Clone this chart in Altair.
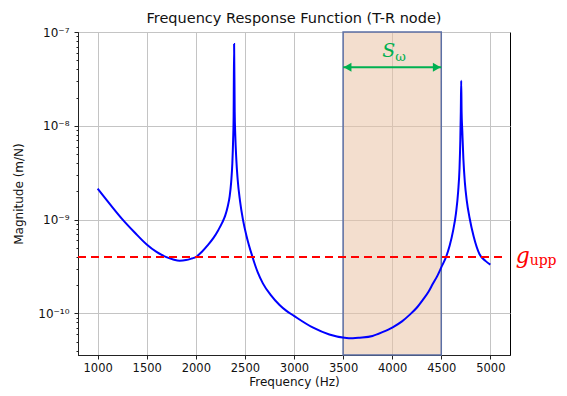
import altair as alt
import pandas as pd

# ---- data ----
freq = [1000, 1125, 1255, 1380, 1500, 1600, 1700, 1770, 1835, 1900, 1960,
        2000, 2060, 2120, 2180, 2230, 2270, 2300, 2325, 2345, 2360, 2372, 2380, 2385,
        2390,
        2396, 2402, 2412, 2426, 2450, 2480, 2520, 2575, 2630, 2683, 2760, 2853,
        2920, 3000, 3190, 3360, 3515, 3600, 3670, 3800, 3900, 4005, 4100, 4177, 4250,
        4312, 4370, 4414, 4460, 4500, 4551, 4585, 4620, 4650, 4672, 4686, 4694, 4699,
        4703,
        4707, 4714, 4725, 4740, 4760, 4788, 4830, 4890, 4950, 5000]
mag = [2.138e-9, 1.462e-9, 1.0e-9, 7.24e-10, 5.43e-10, 4.52e-10, 3.98e-10, 3.76e-10,
       3.65e-10, 3.70e-10, 3.85e-10,
       3.98e-10, 4.52e-10, 5.31e-10, 6.38e-10, 7.76e-10, 9.33e-10, 1.109e-9, 1.380e-9,
       1.778e-9, 2.512e-9, 3.98e-9, 7.08e-9, 1.259e-8,
       7.45e-8,
       1.413e-8, 7.94e-9, 4.47e-9, 2.69e-9, 1.585e-9, 1.0e-9, 6.46e-10, 4.07e-10,
       2.75e-10, 2.09e-10, 1.585e-10, 1.23e-10,
       1.07e-10, 9.40e-11, 7.08e-11, 5.96e-11, 5.50e-11, 5.43e-11, 5.50e-11, 5.75e-11,
       6.31e-11, 7.11e-11, 8.22e-11, 9.64e-11, 1.148e-10,
       1.393e-10, 1.698e-10, 2.065e-10, 2.512e-10, 3.09e-10, 4.05e-10, 5.25e-10,
       7.59e-10, 1.175e-9, 1.995e-9, 3.55e-9, 7.08e-9, 1.413e-8,
       3.02e-8,
       1.413e-8, 8.91e-9, 4.47e-9, 2.51e-9, 1.585e-9, 1.047e-9, 6.61e-10, 4.27e-10,
       3.63e-10, 3.31e-10]

band = [3500, 4500]
g_upp = 4.0e-10
g_line_x = [800, 5130]
arrow_y = 4.2e-8
x_ticks = [1000, 1500, 2000, 2500, 3000, 3500, 4000, 4500, 5000]
y_major = [1e-10, 1e-9, 1e-8, 1e-7]
y_minor = [4e-11, 5e-11, 6e-11, 7e-11, 8e-11, 9e-11,
           2e-10, 3e-10, 4e-10, 5e-10, 6e-10, 7e-10, 8e-10, 9e-10,
           2e-9, 3e-9, 4e-9, 5e-9, 6e-9, 7e-9, 8e-9, 9e-9,
           2e-8, 3e-8, 4e-8, 5e-8, 6e-8, 7e-8, 8e-8, 9e-8]
label_x = 5330
sub_x = 5400

FONT = "DejaVu Sans"
curve = pd.DataFrame({"f": freq, "m": mag})

x_scale = alt.Scale(domain=[800, 5200], nice=False, zero=False)
y_scale = alt.Scale(type="log", domain=[3.6e-11, 1e-7], nice=False)

y_label_expr = ("datum.value >= 5e-8 ? '10\u207b\u2077' : datum.value >= 5e-9 ? '10\u207b\u2078' : "
                "datum.value >= 5e-10 ? '10\u207b\u2079' : '10\u207b\u00b9\u2070'")


def ynone(field):
    return alt.Y(field, scale=y_scale, axis=None)


band_df = pd.DataFrame({"a": [band[0]], "b": [band[1]]})
rect = alt.Chart(band_df).mark_rect(
    fill="#eac3a6", fillOpacity=0.55, stroke="#5b6fa5", strokeWidth=1.5
).encode(
    x=alt.X("a:Q", scale=x_scale), x2="b:Q"
)

line = alt.Chart(curve).mark_line(color="#0000ff", strokeWidth=2, interpolate="monotone").encode(
    x=alt.X("f:Q", scale=x_scale,
            axis=alt.Axis(values=x_ticks, format="d", title="Frequency (Hz)", grid=True,
                          tickSize=4, labelPadding=3, titlePadding=3,
                          titleFontWeight="normal", labelFontSize=11.5, titleFontSize=12)),
    y=alt.Y("m:Q", scale=y_scale,
            axis=alt.Axis(values=y_major, labelExpr=y_label_expr, title="Magnitude (m/N)",
                          grid=True, tickSize=4, labelPadding=5, titlePadding=12, orient="left",
                          titleFontWeight="normal", labelFontSize=12, titleFontSize=12)),
)

minor_df = pd.DataFrame({"y": [g_upp]})
minor = alt.Chart(minor_df).mark_point(opacity=0).encode(
    y=alt.Y("y:Q", scale=y_scale,
            axis=alt.Axis(values=y_minor, labels=False, grid=False, tickSize=2, domain=False,
                          title=None, orient="left")),
)

rule_df = pd.DataFrame({"x": [g_line_x[0]], "x2": [g_line_x[1]], "y": [g_upp]})
gline = alt.Chart(rule_df).mark_rule(color="#ff0000", strokeWidth=2, strokeDash=[8, 5]).encode(
    x=alt.X("x:Q", scale=x_scale), x2="x2:Q", y=ynone("y:Q")
)

arrow_df = pd.DataFrame({"x": [band[0]], "x2": [band[1]], "y": [arrow_y]})
arrow_line = alt.Chart(arrow_df).mark_rule(color="#00b050", strokeWidth=2).encode(
    x=alt.X("x:Q", scale=x_scale), x2="x2:Q", y=ynone("y:Q")
)
head_l = alt.Chart(arrow_df).mark_point(shape="triangle-left", filled=True, color="#00b050",
                                        size=80, opacity=1, xOffset=4.5).encode(
    x=alt.X("x:Q", scale=x_scale), y=ynone("y:Q")
)
head_r = alt.Chart(arrow_df).mark_point(shape="triangle-right", filled=True, color="#00b050",
                                        size=80, opacity=1, xOffset=-4.5).encode(
    x=alt.X("x2:Q", scale=x_scale), y=ynone("y:Q")
)

s_df = pd.DataFrame({"x": [4000], "y": [arrow_y], "t": ["S"], "s": ["\u03c9"]})
s_text = alt.Chart(s_df).mark_text(color="#00b050", font="DejaVu Serif", fontStyle="italic",
                                   fontSize=19, align="right", baseline="alphabetic",
                                   dx=3, dy=-10).encode(
    x=alt.X("x:Q", scale=x_scale), y=ynone("y:Q"), text="t:N"
)
w_text = alt.Chart(s_df).mark_text(color="#00b050", font="DejaVu Serif",
                                   fontSize=13, align="left", baseline="alphabetic",
                                   dx=3, dy=-6).encode(
    x=alt.X("x:Q", scale=x_scale), y=ynone("y:Q"), text="s:N"
)

g_df = pd.DataFrame({"x": [label_x], "xs": [sub_x], "y": [g_upp], "t": ["g"], "s": ["upp"]})
g_text = alt.Chart(g_df).mark_text(color="#ff0000", font="DejaVu Serif", fontStyle="italic",
                                   fontSize=22, align="center", baseline="alphabetic",
                                   dy=6).encode(
    x=alt.X("x:Q", scale=x_scale), y=ynone("y:Q"), text="t:N"
)
sub_text = alt.Chart(g_df).mark_text(color="#ff0000", font="DejaVu Serif",
                                     fontSize=14, align="left", baseline="alphabetic",
                                     dy=8).encode(
    x=alt.X("xs:Q", scale=x_scale), y=ynone("y:Q"), text="s:N"
)

chart = alt.layer(
    rect, line, minor, gline, arrow_line, head_l, head_r, s_text, w_text, g_text, sub_text
).resolve_axis(y="independent").properties(
    width=432, height=323,
    title=alt.Title("Frequency Response Function (T-R node)", fontSize=14.5, font=FONT,
                    fontWeight="normal", color="#111", offset=0, anchor="middle"),
    autosize=alt.AutoSizeParams(type="none"),
    padding={"left": 78, "top": 32, "right": 57, "bottom": 41},
    background="white",
).configure_view(
    stroke="#000", strokeWidth=1
).configure_axis(
    labelFont=FONT, titleFont=FONT, labelFontSize=11, titleFontSize=12,
    titleFontWeight="normal", labelColor="#111", titleColor="#111",
    domainColor="#222", tickColor="#222", gridColor="#c4c4c4", gridWidth=1
)

chart.save("out.html", embed_options={"renderer": "svg", "actions": False})
